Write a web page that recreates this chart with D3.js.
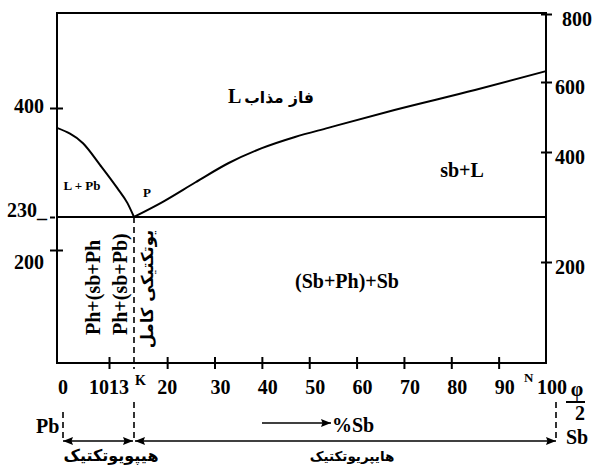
<!DOCTYPE html>
<html>
<head>
<meta charset="utf-8">
<script src="https://cdn.jsdelivr.net/npm/d3@7"></script>
<style>
  body { margin: 0; background: #fff; }
  svg { display: block; }
</style>
</head>
<body>
<div id="chart"></div>
<script>
// Data ____________________________________________
const xTickVals = [10, 20, 30, 40, 50, 60, 70, 80, 90];
const xLabels = [0, 10, 13, 20, 30, 40, 50, 60, 70, 80, 90, 100];
const leftTicks = [400, 230, 200];
const rightTicks = [800, 600, 400, 200];
const eutecticX = 13;
const eutecticT = 230;
// liquidus on the Pb side (left axis units)
const pbX = [0, 5, 8.3, 11, 12.2, 13];
const pbT = [369, 345, 311, 275, 252, 230];
// liquidus on the Sb side (right axis units)
const sbX = [13, 19, 26, 33, 40, 47, 54, 68, 85, 100];
const sbT = [282, 309, 345, 380, 411, 443, 469, 520, 577, 632];

// Layout __________________________________________
const W = 594, H = 465;
const plotLeft = 57, plotRight = 546, plotTop = 13, plotBottom = 363;
const serif = '"Liberation Serif", "Times New Roman", Tinos, "DejaVu Serif", serif';
const farsi = '"DejaVu Sans", "Noto Sans", sans-serif';

// schematic axes: not evenly graded in the drawing
const x = d3.scaleLinear().domain([0, 10, 13, 100]).range([plotLeft, 109, 134, plotRight]);
const yL = d3.scaleLinear().domain([200, 230, 400]).range([250, 217, 108]);
const yR = d3.scaleLinear().domain([200, 400, 600, 800]).range([262, 152, 82, 14]);

const svg = d3.select('#chart').append('svg')
    .attr('width', W)
    .attr('height', H);

// helper for the bold labels
const label = (txt, px, py, size, opts = {}) => {
    const t = svg.append('text')
        .attr('x', px).attr('y', py)
        .attr('font-family', opts.fa ? farsi : serif)
        .attr('font-weight', 'bold')
        .attr('font-size', size)
        .attr('text-anchor', opts.anchor || 'start')
        .text(txt);
    if (opts.transform) t.attr('transform', opts.transform);
    return t;
};

const defs = svg.append('defs');
defs.append('marker')
    .attr('id', 'arr')
    .attr('viewBox', '0 0 10 8')
    .attr('refX', 10).attr('refY', 4)
    .attr('markerWidth', 10).attr('markerHeight', 8)
    .attr('markerUnits', 'userSpaceOnUse')
    .attr('orient', 'auto-start-reverse')
    .append('path')
    .attr('d', 'M0,0 L10,4 L0,8 L1.5,4 Z')
    .attr('fill', '#000');

// Box
svg.append('rect')
    .attr('x', plotLeft).attr('y', plotTop)
    .attr('width', plotRight - plotLeft).attr('height', plotBottom - plotTop)
    .attr('fill', 'none').attr('stroke', '#000').attr('stroke-width', 2);

// Axes (tick marks only, labels placed below)
const xAxis = d3.axisBottom(x).tickValues(xTickVals).tickFormat('').tickSize(6).tickSizeOuter(0);
const gx = svg.append('g').attr('transform', `translate(0,${plotBottom})`).call(xAxis);
gx.select('.domain').remove();
gx.selectAll('line').attr('y1', -6).attr('y2', 6).attr('stroke', '#000').attr('stroke-width', 2);

const rAxis = d3.axisRight(yR).tickValues(rightTicks).tickFormat('').tickSize(6).tickSizeOuter(0);
const gr = svg.append('g').attr('transform', `translate(${plotRight},0)`).call(rAxis);
gr.select('.domain').remove();
gr.selectAll('line').attr('x1', -5).attr('x2', 6).attr('stroke', '#000').attr('stroke-width', 2);

const lAxis = d3.axisLeft(yL).tickValues(leftTicks).tickFormat('').tickSize(7).tickSizeOuter(0);
const gl = svg.append('g').attr('transform', `translate(${plotLeft},0)`).call(lAxis);
gl.select('.domain').remove();
gl.selectAll('.tick line')
    .attr('x1', d => d === 230 ? -2 : 6)
    .attr('stroke', '#000').attr('stroke-width', 2);

// Tick labels
svg.append('g').selectAll('text')
    .data(xLabels)
    .enter()
    .append('text')
    .attr('font-family', serif).attr('font-weight', 'bold')
    .attr('font-size', 20)
    .attr('x', d => d === 10 || d === 13 ? x(10) : (d === 20 ? x(d) : x(d) + 6))
    .attr('y', 394)
    .attr('text-anchor', d => d === 10 ? 'end' : (d === 13 ? 'start' : 'middle'))
    .text(d => d);

svg.append('g').selectAll('text')
    .data(rightTicks)
    .enter()
    .append('text')
    .attr('font-family', serif).attr('font-weight', 'bold')
    .attr('font-size', 20)
    .attr('x', d => d === 800 ? 562 : 555)
    .attr('y', d => yR(d) + 12)
    .text(d => d);

svg.append('g').selectAll('text')
    .data(leftTicks)
    .enter()
    .append('text')
    .attr('font-family', serif).attr('font-weight', 'bold')
    .attr('font-size', 20)
    .attr('x', d => d === 230 ? 47 : 44)
    .attr('y', d => d === 200 ? yL(d) + 19 : yL(d) + (d === 230 ? 0 : 5))
    .attr('text-anchor', 'end')
    .text(d => d === 230 ? d + '_' : d);

// Eutectic line and point
svg.append('line')
    .attr('x1', plotLeft).attr('x2', plotRight)
    .attr('y1', yL(eutecticT)).attr('y2', yL(eutecticT))
    .attr('stroke', '#000').attr('stroke-width', 2);

svg.append('line')
    .attr('x1', x(eutecticX)).attr('x2', x(eutecticX))
    .attr('y1', yL(eutecticT)).attr('y2', plotBottom + 6)
    .attr('stroke', '#000').attr('stroke-width', 1.6).attr('stroke-dasharray', '6,4');

// Liquidus curves
const line = d3.line().curve(d3.curveMonotoneX);
svg.append('path')
    .attr('d', line(pbX.map((v, i) => [x(v), yL(pbT[i])])))
    .attr('fill', 'none').attr('stroke', '#000').attr('stroke-width', 2);
svg.append('path')
    .attr('d', line(sbX.map((v, i) => [x(v), yR(sbT[i])])))
    .attr('fill', 'none').attr('stroke', '#000').attr('stroke-width', 2);

// Region labels
label('L', 228, 103, 20);
label('فاز مذاب', 314, 103, 15.5, {fa: true, anchor: 'end'});
label('sb+L', 462, 177, 20, {anchor: 'middle'});
label('L + Pb', 82, 190, 13, {anchor: 'middle'});
label('P', 147, 197, 13, {anchor: 'middle'});
label('(Sb+Ph)+Sb', 347, 288, 20, {anchor: 'middle'});

label('Ph+(sb+Ph', 0, 0, 20, {transform: 'translate(100,335) rotate(-90)'});
label('Ph+(sb+Pb)', 0, 0, 20, {transform: 'translate(127,335) rotate(-90)'});
label('یوتکتیکی کامل', 0, 0, 16.5, {fa: true, anchor: 'middle', transform: 'translate(153,289) rotate(-90)'});

// Small letters
label('K', 135, 385, 14);
label('N', 524, 382, 13);

// phi / 2
label('φ', 577, 396, 20, {anchor: 'middle'});
svg.append('line').attr('x1', 566).attr('x2', 585).attr('y1', 402).attr('y2', 402)
    .attr('stroke', '#000').attr('stroke-width', 2);
label('2', 580, 420, 20, {anchor: 'middle'});

// Composition guide below the axis
const yArrow = 441;
[[x(0) + 6, 412], [x(eutecticX), 402], [plotRight + 10, 402]].forEach(d => {
    svg.append('line')
        .attr('x1', d[0]).attr('x2', d[0]).attr('y1', d[1]).attr('y2', yArrow - 2)
        .attr('stroke', '#000').attr('stroke-width', 1.6).attr('stroke-dasharray', '6,4');
});
svg.append('line')
    .attr('x1', x(0) + 6).attr('x2', x(eutecticX) - 1)
    .attr('y1', yArrow).attr('y2', yArrow)
    .attr('stroke', '#000').attr('stroke-width', 1.6)
    .attr('marker-start', 'url(#arr)').attr('marker-end', 'url(#arr)');
svg.append('line')
    .attr('x1', x(eutecticX) + 1).attr('x2', plotRight + 10)
    .attr('y1', yArrow).attr('y2', yArrow)
    .attr('stroke', '#000').attr('stroke-width', 1.6)
    .attr('marker-start', 'url(#arr)').attr('marker-end', 'url(#arr)');
svg.append('line')
    .attr('x1', 262).attr('x2', 331)
    .attr('y1', 423).attr('y2', 423)
    .attr('stroke', '#000').attr('stroke-width', 1.6)
    .attr('marker-end', 'url(#arr)');
label('%Sb', 332, 432, 20);
label('Pb', 36, 433, 20);
label('Sb', 566, 444, 20);

label('هیپویوتکتیک', 111, 461, 16, {fa: true, anchor: 'middle'});
label('هایپریوتکتیک', 352, 461, 13.5, {fa: true, anchor: 'middle'});
</script>
</body>
</html>
